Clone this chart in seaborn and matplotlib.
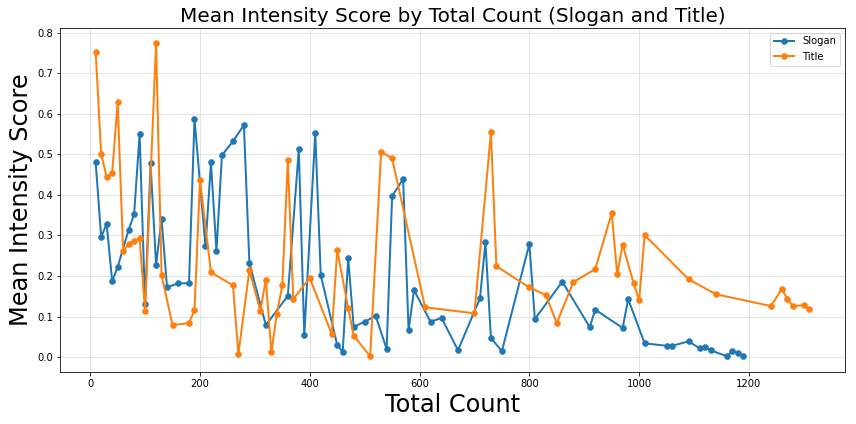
import matplotlib
matplotlib.use("Agg")
import matplotlib.pyplot as plt
import seaborn as sns
import pandas as pd

slogan_x = [10, 20, 30, 40, 50, 70, 80, 90, 100, 110, 120, 130, 140, 160, 180, 190, 210, 220, 230, 240,
            260, 280, 290, 320, 360, 380, 390, 410, 420, 450, 460, 470, 480, 500, 520, 540, 550, 570, 580, 590,
            620, 640, 670, 710, 720, 730, 750, 800, 810, 860, 910, 920, 970, 980, 1010, 1050, 1060, 1090, 1110,
            1120, 1130, 1160, 1170, 1180, 1190]
slogan_y = [0.480, 0.296, 0.329, 0.187, 0.222, 0.314, 0.352, 0.549, 0.131, 0.478, 0.227, 0.341, 0.172, 0.182,
            0.182, 0.587, 0.273, 0.480, 0.261, 0.498, 0.532, 0.572, 0.232, 0.079, 0.151, 0.512, 0.054, 0.552,
            0.202, 0.030, 0.013, 0.244, 0.075, 0.087, 0.102, 0.020, 0.397, 0.439, 0.067, 0.165, 0.087, 0.097,
            0.017, 0.145, 0.283, 0.047, 0.015, 0.279, 0.094, 0.186, 0.074, 0.117, 0.072, 0.143, 0.034, 0.028,
            0.028, 0.039, 0.022, 0.026, 0.017, 0.002, 0.016, 0.010, 0.002]

title_x = [10, 20, 30, 40, 50, 60, 70, 80, 90, 100, 120, 130, 150, 180, 190, 200, 220, 260, 270, 290, 310,
           320, 330, 340, 350, 360, 370, 400, 440, 450, 470, 480, 510, 530, 550, 610, 700, 730, 740, 800, 830,
           850, 880, 920, 950, 960, 970, 990, 1000, 1010, 1090, 1140, 1240, 1260, 1270, 1280, 1300, 1310]
title_y = [0.752, 0.501, 0.444, 0.453, 0.628, 0.261, 0.279, 0.287, 0.293, 0.113, 0.774, 0.202, 0.079, 0.084,
           0.116, 0.436, 0.209, 0.177, 0.008, 0.215, 0.114, 0.191, 0.012, 0.107, 0.177, 0.486, 0.143, 0.195,
           0.057, 0.264, 0.121, 0.053, 0.002, 0.506, 0.490, 0.123, 0.108, 0.554, 0.224, 0.172, 0.153, 0.084,
           0.185, 0.217, 0.355, 0.205, 0.277, 0.182, 0.140, 0.301, 0.192, 0.155, 0.126, 0.168, 0.143, 0.126,
           0.128, 0.119]

series_names = ["Slogan", "Title"]
colors = ["#1f77b4", "#ff7f0e"]

df_s = pd.DataFrame({"Total Count": slogan_x, "Mean Intensity Score": slogan_y})
df_t = pd.DataFrame({"Total Count": title_x, "Mean Intensity Score": title_y})

plt.rcParams["font.family"] = ["DejaVu Sans"]
fig = plt.figure(figsize=(856 / 72, 424 / 72), dpi=72)
ax = fig.add_axes([60 / 856, 1 - 372 / 424, (845 - 60) / 856, (372 - 27.5) / 424])

for df, name, c in zip([df_s, df_t], series_names, colors):
    sns.lineplot(data=df, x="Total Count", y="Mean Intensity Score", ax=ax, color=c, marker="o",
                 markersize=6, markeredgecolor=c, markeredgewidth=0.5, linewidth=2, label=name)

ax.grid(True, color="#dddddd", linewidth=0.8)
ax.set_axisbelow(True)
ax.set_title("Mean Intensity Score by Total Count (Slogan and Title)", fontsize=20)
ax.set_xlabel("Total Count", fontsize=24)
ax.set_ylabel("Mean Intensity Score", fontsize=24)
ax.tick_params(labelsize=10)
ax.legend(loc="upper right", fontsize=10)

fig.savefig("out.png", dpi=72)
